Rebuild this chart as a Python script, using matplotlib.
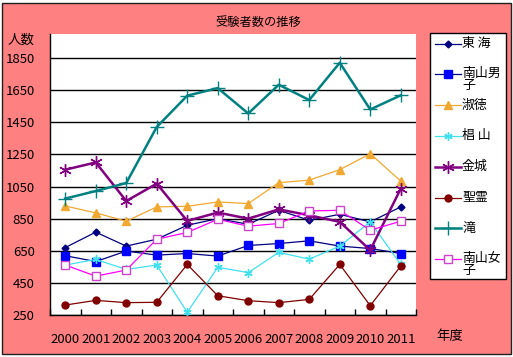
import numpy as np
import matplotlib
matplotlib.use("Agg")
import matplotlib.pyplot as plt
from matplotlib.patches import Rectangle
from matplotlib.lines import Line2D

plt.rcParams['font.family'] = ['Noto Sans CJK JP', 'DejaVu Sans']

# data
years = [str(y) for y in range(2000, 2012)]
tokai = [670, 766, 679, 722, 809, 850, 815, 902, 840, 877, 830, 923]
nanzan_boys = [619, 583, 648, 623, 633, 617, 683, 695, 712, 679, 664, 633]
shukutoku = [929, 886, 834, 923, 927, 954, 944, 1074, 1090, 1155, 1254, 1084]
sugiyama = [561, 596, 534, 561, 267, 547, 514, 640, 598, 679, 830, 565]
kinjo = [1155, 1200, 960, 1068, 836, 888, 850, 908, 871, 830, 654, 1037]
seirei = [312, 341, 327, 329, 565, 370, 339, 327, 347, 565, 308, 555]
taki = [975, 1022, 1072, 1421, 1616, 1663, 1505, 1684, 1589, 1821, 1530, 1618]
nanzan_girls = [561, 492, 530, 722, 764, 846, 803, 820, 898, 902, 778, 834]

labels = ['東 海', '南山男\n子', '淑徳', '椙 山', '金城', '聖霊', '滝', '南山女\n子']
series = [tokai, nanzan_boys, shukutoku, sugiyama, kinjo, seirei, taki, nanzan_girls]
yticks = list(range(250, 2000, 200))

asterisk = (6, 2, 0)
styles = [
    dict(color='#000080', lw=0.9, marker='D', ms=3.5, mfc='#000080', mec='#000080'),
    dict(color='#000080', lw=0.9, marker='s', ms=5.5, mfc='#0000FF', mec='#0000FF'),
    dict(color='#F0A830', lw=0.9, marker='^', ms=6, mfc='#F0A830', mec='#F0A830'),
    dict(color='#40E0F0', lw=0.9, marker=asterisk, ms=6, mfc='none', mec='#40E0F0', mew=1.0),
    dict(color='#800080', lw=1.8, marker=asterisk, ms=9, mfc='none', mec='#800080', mew=1.0),
    dict(color='#800000', lw=0.9, marker='o', ms=5, mfc='#800000', mec='#800000'),
    dict(color='#008080', lw=1.8, marker='+', ms=10, mec='#008080', mew=1.0),
    dict(color='#FF00FF', lw=0.9, marker='s', ms=6, mfc='white', mec='#CC44CC', mew=1.0),
]

W, H = 513, 357
fig = plt.figure(figsize=(W / 100, H / 100), dpi=100, facecolor='white')

def fx(px):
    return px / W

def fy(py):
    return 1 - py / H

# pink chart area with dark frame
fig.patches.append(Rectangle((fx(1.5), fy(354)), fx(509), 351 / H, transform=fig.transFigure,
                             facecolor='#FF8080', edgecolor='#202020', lw=1.0, zorder=-5))

ax = fig.add_axes([fx(50), fy(315), fx(366), (315 - 34) / H])
ax.set_zorder(1)
ax.set_facecolor('white')
x = np.arange(len(years))
for vals, st in zip(series, styles):
    ax.plot(x, vals, **st, zorder=3)

ax.set_xlim(-0.5, len(years) - 0.5)
ax.set_ylim(250, 2000)
ax.set_yticks(yticks)
ax.set_yticklabels([str(v) for v in yticks])
ax.yaxis.grid(True, color='black', lw=1.0)
ax.set_axisbelow(True)
ax.set_xticks(x)
ax.set_xticklabels(years)
ax.set_xticks(np.arange(-0.5, len(years)), minor=True)
ax.tick_params(axis='x', which='major', length=0, pad=13, labelsize=9.5)
ax.tick_params(axis='x', which='minor', direction='in', length=4, width=1, color='black')
ax.tick_params(axis='y', length=0, pad=11, labelsize=9.5)
for s in ['top', 'right']:
    ax.spines[s].set_visible(False)
for s in ['left', 'bottom']:
    ax.spines[s].set_color('black')
    ax.spines[s].set_linewidth(1.0)

fig.text(fx(258), fy(22), '受験者数の推移', ha='center', va='center', fontsize=8.8)
fig.text(fx(21), fy(40), '人数', ha='center', va='center', fontsize=9.7)
fig.text(fx(450), fy(336), '年度', ha='center', va='center', fontsize=9.6)

# legend box
fig.patches.append(Rectangle((fx(430), fy(279)), fx(76), 246 / H, transform=fig.transFigure,
                             facecolor='white', edgecolor='black', lw=1.0, zorder=2))
for i, (lab, st) in enumerate(zip(labels, styles)):
    yy = 43.5 + 30.8 * i
    ln = Line2D([fx(435), fx(461)], [fy(yy), fy(yy)], transform=fig.transFigure,
                color=st['color'], lw=st['lw'], zorder=3)
    fig.lines.append(ln)
    mk = Line2D([fx(448)], [fy(yy)], transform=fig.transFigure, linestyle='none',
                **{k: v for k, v in st.items() if k not in ('color', 'lw')}, zorder=3)
    fig.lines.append(mk)
    if '\n' in lab:
        fig.text(fx(462), fy(yy - 7.5), lab, ha='left', va='top', fontsize=9.3,
                 linespacing=0.95, zorder=4)
    else:
        fig.text(fx(462), fy(yy), lab, ha='left', va='center', fontsize=9.3, zorder=4)

fig.savefig('out.png', dpi=100, facecolor='white')
